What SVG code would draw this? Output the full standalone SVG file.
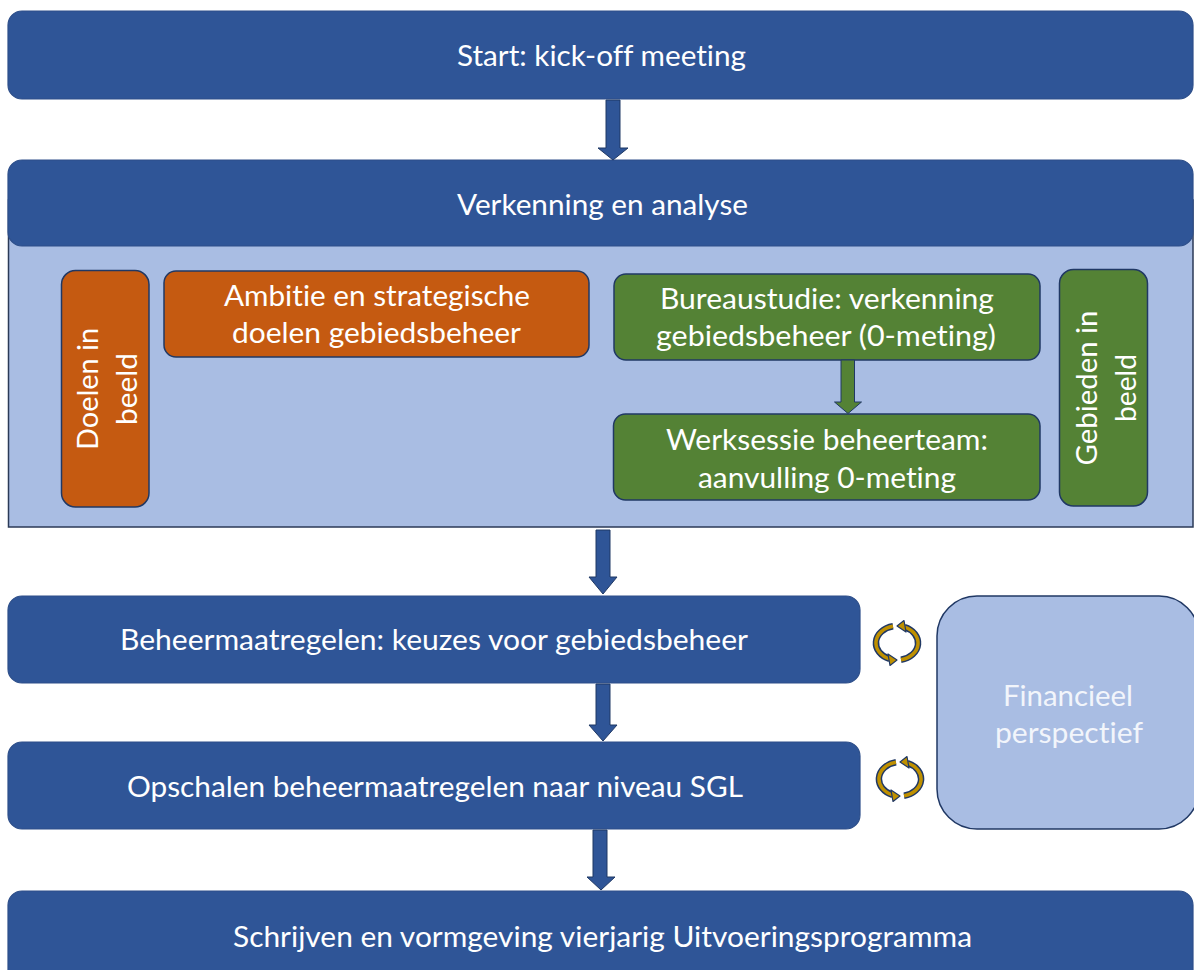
<svg xmlns="http://www.w3.org/2000/svg" xmlns:xlink="http://www.w3.org/1999/xlink" width="1194" height="970" viewBox="0 0 1194 970">
<style>
  text { font-family: Lato, "Open Sans", "Noto Sans", sans-serif; font-size: 28px; fill: #ffffff; text-anchor: middle; font-variant-ligatures: none; }
  .blue { fill: #2F5597; stroke: #2E4F8A; stroke-width: 1.2; }
  .orange { fill: #C55A11; stroke: #203864; stroke-width: 1.5; }
  .green { fill: #548235; stroke: #203864; stroke-width: 1.5; }
  .panel { fill: #A9BDE3; stroke: #2B3A57; stroke-width: 1.5; }
  .fin { fill: #A9BDE3; stroke: #203864; stroke-width: 1.5; }
  .finText { fill: #F2F5FB; }
  .arrowBlue { fill: #2F5597; stroke: #1F3864; stroke-width: 1; }
  .arrowGreen { fill: #548235; stroke: #203864; stroke-width: 1; }
  .cycOut { fill: none; stroke: #203864; stroke-width: 6.5; }
  .cycIn { fill: none; stroke: #BF9000; stroke-width: 3.5; }
  .cycHead { fill: #BF9000; stroke: #203864; stroke-width: 1.2; stroke-linejoin: round; }
</style>
<defs>
  <g id="cycle">
    <path class="cycOut" d="M -4 -16.7 A 21 17 0 0 0 -7.5 15.9"/>
    <path class="cycOut" d="M 4 16.7 A 21 17 0 0 0 7.5 -15.9"/>
    <path class="cycIn" d="M -4 -16.7 A 21 17 0 0 0 -7.5 15.9"/>
    <path class="cycIn" d="M 4 16.7 A 21 17 0 0 0 7.5 -15.9"/>
    <polygon class="cycHead" points="-9,11 -7,22.5 0,17"/>
    <polygon class="cycHead" points="9,-11 7,-22.5 0,-17"/>
  </g>
</defs>

<g id="panel-verkenning">
  <rect class="panel" x="8.5" y="200" width="1184.5" height="327"/>
</g>

<g id="node-start">
  <rect class="blue" x="8" y="11" width="1185" height="88" rx="14"/>
  <text x="601.5" y="66" textLength="289" lengthAdjust="spacingAndGlyphs">Start: kick-off meeting</text>
</g>

<g id="node-verkenning">
  <rect class="blue" x="8" y="160" width="1185" height="86" rx="14"/>
  <text x="602.5" y="215" textLength="291" lengthAdjust="spacingAndGlyphs">Verkenning en analyse</text>
</g>

<g id="node-doelen">
  <rect class="orange" x="61.5" y="270.5" width="87.5" height="236.5" rx="14"/>
  <text transform="translate(105,389) rotate(-90)" x="0" y="-7.5" textLength="122" lengthAdjust="spacingAndGlyphs">Doelen in</text>
  <text transform="translate(105,389) rotate(-90)" x="0" y="32" textLength="72" lengthAdjust="spacingAndGlyphs">beeld</text>
</g>

<g id="node-ambitie">
  <rect class="orange" x="164" y="271" width="425" height="86" rx="12"/>
  <text x="377" y="306" textLength="306" lengthAdjust="spacingAndGlyphs">Ambitie en strategische</text>
  <text x="376.5" y="343" textLength="289" lengthAdjust="spacingAndGlyphs">doelen gebiedsbeheer</text>
</g>

<g id="node-bureaustudie">
  <rect class="green" x="614" y="274" width="426" height="86" rx="12"/>
  <text x="827" y="309" textLength="334" lengthAdjust="spacingAndGlyphs">Bureaustudie: verkenning</text>
  <text x="826" y="346" textLength="340" lengthAdjust="spacingAndGlyphs">gebiedsbeheer (0-meting)</text>
</g>

<g id="node-werksessie">
  <rect class="green" x="613.5" y="414" width="426.5" height="86" rx="12"/>
  <text x="827" y="450" textLength="322" lengthAdjust="spacingAndGlyphs">Werksessie beheerteam:</text>
  <text x="827" y="488" textLength="258" lengthAdjust="spacingAndGlyphs">aanvulling 0-meting</text>
</g>

<g id="node-gebieden">
  <rect class="green" x="1059.5" y="269.5" width="88" height="236.5" rx="14"/>
  <text transform="translate(1103.5,388) rotate(-90)" x="0" y="-6.5" textLength="155" lengthAdjust="spacingAndGlyphs">Gebieden in</text>
  <text transform="translate(1103.5,388) rotate(-90)" x="0" y="32.5" textLength="68" lengthAdjust="spacingAndGlyphs">beeld</text>
</g>

<g id="node-beheermaatregelen">
  <rect class="blue" x="8" y="596" width="852" height="87" rx="14"/>
  <text x="434" y="650" textLength="628" lengthAdjust="spacingAndGlyphs">Beheermaatregelen: keuzes voor gebiedsbeheer</text>
</g>

<g id="node-opschalen">
  <rect class="blue" x="8" y="742" width="852" height="87" rx="14"/>
  <text x="435" y="797" textLength="616" lengthAdjust="spacingAndGlyphs">Opschalen beheermaatregelen naar niveau SGL</text>
</g>

<g id="node-schrijven">
  <rect class="blue" x="8" y="891" width="1185" height="100" rx="14"/>
  <text x="602.5" y="947" textLength="739" lengthAdjust="spacingAndGlyphs">Schrijven en vormgeving vierjarig Uitvoeringsprogramma</text>
</g>

<g id="node-financieel">
  <rect class="fin" x="937" y="596" width="262" height="233" rx="40"/>
  <text class="finText" x="1068" y="706" textLength="130" lengthAdjust="spacingAndGlyphs">Financieel</text>
  <text class="finText" x="1069" y="743" textLength="148" lengthAdjust="spacingAndGlyphs">perspectief</text>
</g>

<g id="connectors">
  <polygon class="arrowBlue" points="606,100 620,100 620,148 628,148 613,160 598,148 606,148"/>
  <polygon class="arrowGreen" points="841,360 854.5,360 854.5,402 861.5,402 848,413.5 834.5,402 841,402"/>
  <polygon class="arrowBlue" points="596,530 610,530 610,577 617,577 603,594 589,577 596,577"/>
  <polygon class="arrowBlue" points="596,684 610,684 610,725 617,725 603,741 589,725 596,725"/>
  <polygon class="arrowBlue" points="593,830 607,830 607,877 615,877 601,890 587,877 593,877"/>
  <use xlink:href="#cycle" transform="translate(897,643)"/>
  <use xlink:href="#cycle" transform="translate(900,779)"/>
</g>
</svg>
